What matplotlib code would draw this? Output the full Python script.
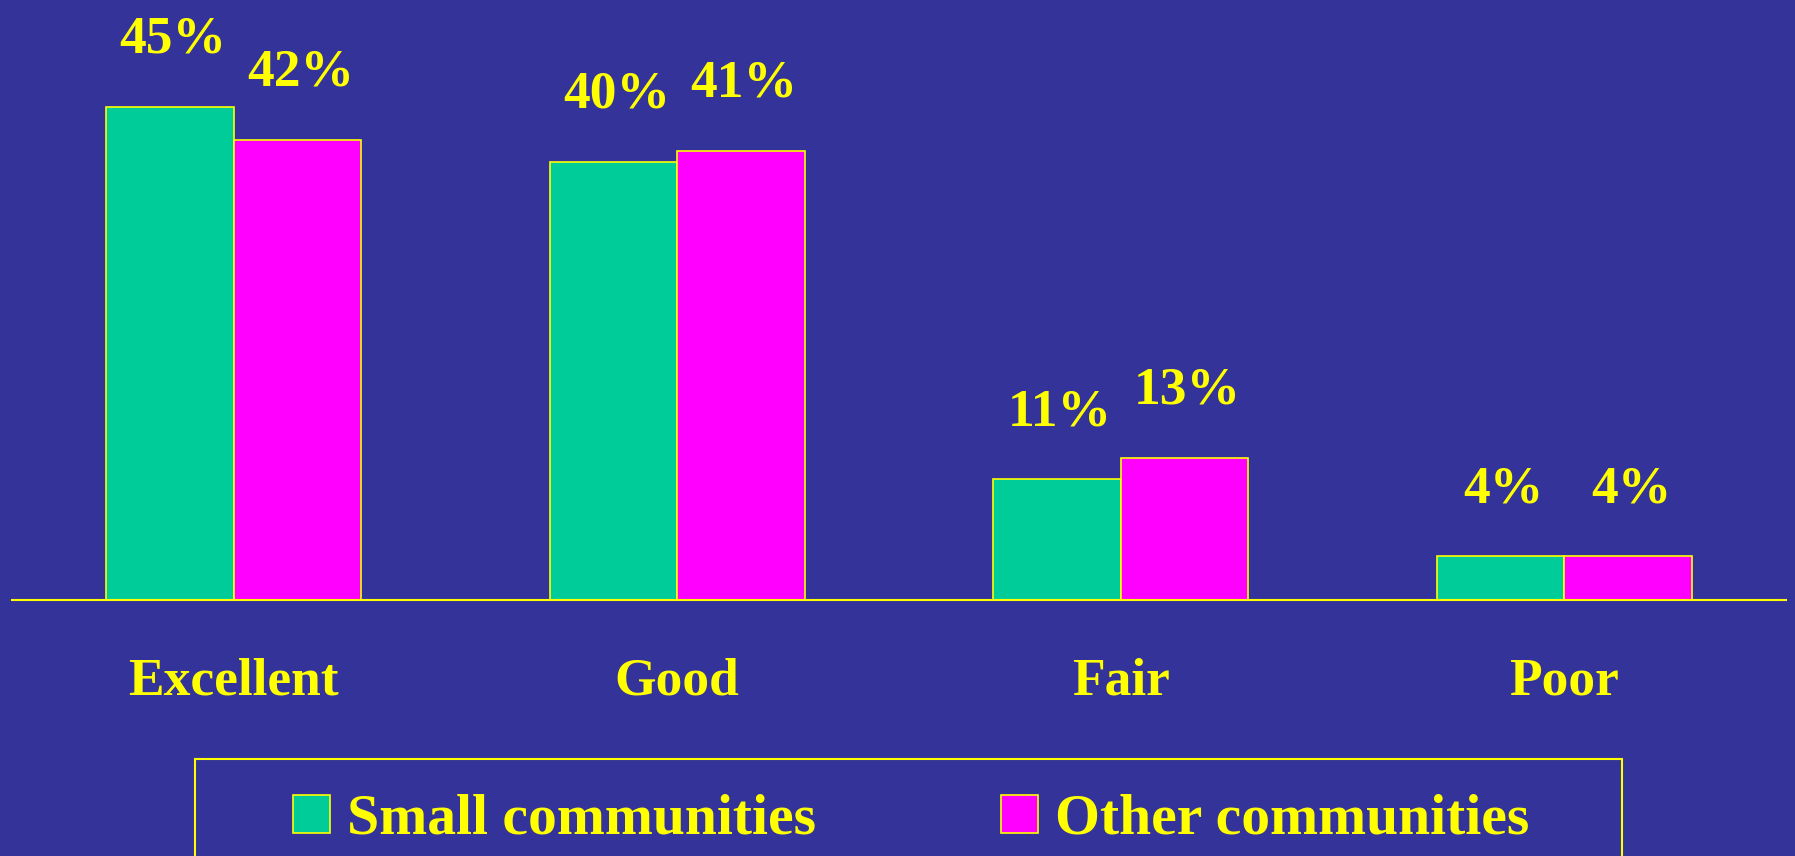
import matplotlib.pyplot as plt
from matplotlib.patches import Patch, Rectangle

# survey ratings
categories = ["Excellent", "Good", "Fair", "Poor"]
small = [45, 40, 11, 4]
other = [42, 41, 13, 4]
series_names = ["Small communities", "Other communities"]

bg = "#333399"
green = "#00CC99"
magenta = "#FF00FF"
yellow = "#FFFF00"
font = "Liberation Serif"

fig = plt.figure(figsize=(17.95, 8.56), dpi=100, facecolor=bg)
ax = fig.add_axes([12 / 1795, 256 / 856, 1774 / 1795, 600 / 856])
ax.set_facecolor(bg)

x = list(range(len(categories)))
w = 0.287
xs = [i - w / 2 for i in x]
xo = [i + w / 2 for i in x]
ax.bar(xs, small, width=w, color=green, edgecolor=yellow, linewidth=1.2)
ax.bar(xo, other, width=w, color=magenta, edgecolor=yellow, linewidth=1.2)

# value labels above bars
for xx, vals in ((xs, small), (xo, other)):
    for xi, v in zip(xx, vals):
        ax.annotate(f"{v}%", xy=(xi, v), xytext=(3, 54), textcoords="offset pixels",
                    ha="center", va="baseline", color=yellow, fontsize=38.5,
                    fontweight="bold", family=font)

ax.set_xlim(-0.5, 3.5)
ax.set_ylim(0, 54.75)
ax.set_xticks(x)
ax.set_xticklabels(categories, color=yellow, fontsize=38.5, fontweight="bold", family=font)
plt.setp(ax.get_xticklabels(), va="baseline")
ax.tick_params(axis="x", length=0, pad=67.7)
ax.set_yticks([])
for s in ("left", "right", "top"):
    ax.spines[s].set_visible(False)
ax.spines["bottom"].set_color(yellow)
ax.spines["bottom"].set_linewidth(1.5)

# legend
handles = [Patch(facecolor=green, edgecolor=yellow, linewidth=1.2),
           Patch(facecolor=magenta, edgecolor=yellow, linewidth=1.2)]
fig.legend(handles, series_names, ncol=2, frameon=False, loc="upper left",
           bbox_to_anchor=(293 / 1795, 1 - 794 / 856), borderaxespad=0, borderpad=0,
           handlelength=0.64, handleheight=0.64, handletextpad=0.3, columnspacing=3.2,
           prop={"family": font, "weight": "bold", "size": 41.5}, labelcolor=yellow)
fig.patches.append(Rectangle((195 / 1795, -0.1), (1622 - 195) / 1795, 0.1 + (856 - 759) / 856,
                             transform=fig.transFigure, fill=False, edgecolor=yellow, linewidth=1.5))

fig.savefig("out.png", dpi=100, facecolor=bg)
